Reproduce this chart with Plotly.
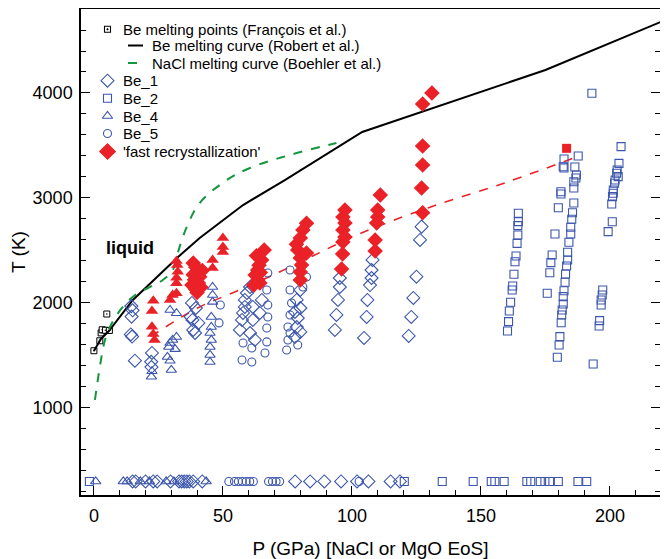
import plotly.graph_objects as go

# ---------------- data ----------------
# François et al. melting points
fr_P = [0.0, 2.3, 2.8, 3.2, 4.5, 6.0, 5.0]
fr_T = [1545, 1640, 1715, 1745, 1740, 1738, 1895]

# Robert et al. Be melting curve
rob_P = [0.0, 2.7, 5.8, 15.1, 32.2, 41.0, 57.8, 74.0, 104.0, 156.0, 175.0, 220.0]
rob_T = [1543, 1657, 1733, 2029, 2429, 2619, 2933, 3171, 3629, 4057, 4219, 4680]

# Boehler et al. NaCl melting curve
nacl_P = [0.4, 2.3, 4.3, 7.0, 11.2, 16.0, 21.7, 26.7, 30.6, 32.6, 36.0, 41.0, 51.5, 60.5, 76.0, 94.0]
nacl_T = [1076, 1390, 1648, 1810, 1962, 2076, 2152, 2219, 2314, 2486, 2724, 2952, 3171, 3286, 3410, 3524]

# recrystallization boundary (red dashed)
rc_P = [22, 40, 55, 68, 85, 103, 130, 160, 186]
rc_T = [1680, 1950, 2110, 2250, 2450, 2660, 2910, 3150, 3380]

# Be_1 (open diamonds)
be1_P = [14.5, 15.0, 14.6, 14.3, 14.8, 15.9,
         22.5, 22.2, 22.3,
         38.0, 39.5, 37.5, 38.2, 40.5, 38.5, 39.2,
         60.5, 59.3, 58.5, 58.5, 57.8, 57.4, 56.6, 60.5, 61.6, 62.4, 64.3, 65.1, 61.6,
         80.0, 78.6, 80.0, 77.9, 79.0, 78.6, 80.0, 77.9,
         95.3, 95.3, 94.6, 94.0, 93.4,
         108.0, 107.6, 107.6, 107.0, 106.0, 105.7, 104.7,
         127.0, 126.4, 125.0, 123.8, 123.0, 122.0,
         15.0, 16.2, 20.0, 23.0, 24.5, 29.7, 33.0, 34.0, 35.0, 36.0, 37.0, 38.5, 42.0,
         78.0, 83.8, 89.3, 95.8, 102.0, 106.4, 115.0, 118.6]
be1_T = [1970, 1930, 1870, 1700, 1680, 1450,
         1524, 1440, 1390,
         2000, 1952, 1867, 1838, 1810, 1743, 1714,
         2152, 2095, 2029, 1962, 1905, 1838, 1743, 1714, 1838, 1648, 1905, 2029, 1962,
         2124, 2029, 1952, 1914, 1857, 1771, 1724, 1676,
         2238, 2152, 2029, 1886, 1743,
         2410, 2314, 2238, 2171, 2029, 1867, 1667,
         2727, 2600, 2250, 2048, 1867, 1686,
         300, 300, 300, 300, 300, 300, 300, 300, 300, 300, 300, 300, 300,
         300, 300, 300, 300, 300, 300, 300, 300]

# Be_2 (open squares)
be2_P = [164.5, 164.5, 164.3, 164.3, 164.0, 163.6, 163.2, 162.8, 162.3, 162.1, 161.5, 161.0, 160.7, 160.3,
         187.7, 182.2, 181.9, 182.2, 186.4, 187.0, 186.8, 186.0, 186.0, 181.0, 181.0, 180.0, 186.0, 185.5,
         185.2, 184.8, 184.8, 184.1, 183.6, 183.6, 183.2, 182.8, 182.6, 182.2, 181.9, 181.9, 181.5, 181.3,
         181.1, 180.6, 180.3, 179.6, 178.7, 177.6, 177.1, 176.7, 175.7, 193.0,
         204.3, 203.5, 202.8, 202.6, 203.2, 202.0, 201.8, 201.3, 201.3, 201.0, 200.7, 200.9, 199.3,
         197.2, 197.0, 196.6, 196.6, 196.0, 195.8, 193.5,
         -1.75, 120.3, 135.0, 147.0, 154.0, 155.4, 159.0, 167.8, 169.3, 173.0, 174.8, 176.6, 180.0, 187.6, 191.0]
be2_T = [2855, 2775, 2737, 2648, 2568, 2448, 2393, 2273, 2162, 2124, 2007, 1924, 1822, 1733,
         3400, 3371, 3298, 3286, 3295, 3219, 3190, 3155, 3095, 3060, 3038, 2907, 2952, 2860,
         2797, 2721, 2657, 2578, 2483, 2410, 2352, 2276, 2197, 2117, 2060, 1990, 1933, 1886,
         1812, 1679, 1600, 1483, 2657, 2457, 2384, 2288, 2093, 3997,
         3489, 3330, 3267, 3235, 3203, 3171, 3140, 3076, 3045, 3013, 2943, 2774, 2680,
         2124, 2076, 2029, 1981, 1832, 1781, 1419,
         300, 300, 300, 300, 300, 300, 300, 300, 300, 300, 300, 300, 300, 300, 300]

# Be_4 (open triangles)
be4_P = [22.3, 22.5,
         29.5, 32.0, 32.0, 30.5, 29.5, 29.0, 31.5, 28.5, 29.5, 30.0,
         46.0, 46.0, 46.0, 45.5, 45.5, 45.0, 45.5, 45.0, 45.0, 45.0,
         0.7, 11.4, 12.9, 18.0, 21.5, 28.0, 31.0, 43.5]
be4_T = [1298, 1350,
         1933, 1902, 1676, 1648, 1619, 1581, 1560, 1486, 1450, 1362,
         2152, 2076, 2010, 1867, 1771, 1714, 1648, 1581, 1505, 1438,
         300, 300, 300, 300, 300, 300, 300, 300]

# Be_5 (open circles)
be5_P = [49.0, 48.5,
         67.0, 67.4, 67.4, 67.0, 67.0, 66.3, 61.2, 57.8, 57.4, 61.2, 67.4,
         76.0, 76.0, 76.6, 76.0, 75.2, 76.0, 75.2, 74.7, 82.4, 81.0, 79.0,
         52.3, 54.5, 56.0, 57.5, 59.0, 60.4, 61.8, 67.7, 69.2, 70.6, 72.0, 102.8]
be5_T = [1981, 1810,
         2124, 1981, 1867, 1762, 1629, 1524, 1571, 1619, 1457, 1438, 2286,
         2314, 2124, 2000, 1886, 1771, 1714, 1648, 1552, 2248, 2152, 1600,
         300, 300, 300, 300, 300, 300, 300, 300, 300, 300, 300, 300]

# 'fast recrystallization' (filled red diamonds)
fr_dia_P = [38.5, 39.5, 40.0, 38.5, 41.0, 39.0, 40.5, 38.0, 41.5, 39.5, 40.0, 42.0,
            66.0, 65.0, 64.0, 63.5, 62.5, 63.5, 64.3, 63.0, 62.0, 64.5,
            82.4, 81.0, 80.0, 79.0, 80.0, 80.5, 80.0, 80.0, 82.4, 78.5,
            97.3, 96.5, 97.3, 96.5, 97.3, 96.5, 96.4, 96.0,
            111.0, 110.0, 110.0, 109.6, 109.0, 109.0,
            127.4, 127.0, 127.4, 127.4, 127.4, 131.0]
fr_dia_T = [2380, 2340, 2300, 2270, 2250, 2220, 2190, 2170, 2150, 2130, 2100, 2310,
            2505, 2410, 2360, 2314, 2267, 2219, 2190, 2450, 2170, 2290,
            2759, 2695, 2619, 2505, 2429, 2362, 2295, 2219, 2476, 2560,
            2886, 2819, 2762, 2695, 2629, 2581, 2467, 2324,
            3029, 2886, 2819, 2762, 2600, 2495,
            2860, 3095, 3314, 3495, 3895, 4000]

# fast recrystallization, Be_4 (filled red triangles)
fr_tri_P = [23.0, 22.5, 22.5, 23.0, 23.5,
            32.0, 32.3, 32.5, 32.0, 32.0, 32.0, 30.5, 29.5,
            46.0, 46.0, 50.0, 50.0, 50.0]
fr_tri_T = [2022, 1924, 1774, 1705, 1648,
            2400, 2362, 2298, 2240, 2187, 2092, 2076, 2029,
            2410, 2333, 2620, 2533, 2485]

# fast recrystallization, Be_2 (filled red square)
fr_sq_P = [183.2]
fr_sq_T = [3473]

# legend labels
leg_labels = ["Be melting points (François et al.)", "Be melting curve (Robert et al.)",
              "NaCl melting curve (Boehler et al.)", "Be_1", "Be_2", "Be_4", "Be_5",
              "'fast recrystallization'"]

BLUE = "rgb(60,86,172)"
RED = "rgb(234,34,40)"
GREEN = "rgb(20,150,60)"
FONT = "Liberation Sans, Arial, sans-serif"

fig = go.Figure()

fig.add_trace(go.Scatter(x=fr_P, y=fr_T, mode="markers", name=leg_labels[0], showlegend=False,
                         marker=dict(symbol="square-dot", size=6, color="white",
                                     line=dict(color="black", width=1))))
fig.add_trace(go.Scatter(x=rob_P, y=rob_T, mode="lines", name=leg_labels[1], showlegend=False,
                         line=dict(color="black", width=2)))
fig.add_trace(go.Scatter(x=nacl_P, y=nacl_T, mode="lines", name=leg_labels[2], showlegend=False,
                         line=dict(color=GREEN, width=2, dash="dash", shape="spline")))
fig.add_trace(go.Scatter(x=rc_P, y=rc_T, mode="lines", showlegend=False,
                         line=dict(color=RED, width=1.6, dash="dash", shape="spline")))
fig.add_trace(go.Scatter(x=be1_P, y=be1_T, mode="markers", name=leg_labels[3], showlegend=False,
                         marker=dict(symbol="diamond-open", size=10, color=BLUE, line=dict(width=1.1))))
fig.add_trace(go.Scatter(x=be2_P, y=be2_T, mode="markers", name=leg_labels[4], showlegend=False,
                         marker=dict(symbol="square-open", size=8, color=BLUE, line=dict(width=1.1))))
fig.add_trace(go.Scatter(x=be4_P, y=be4_T, mode="markers", name=leg_labels[5], showlegend=False,
                         marker=dict(symbol="triangle-up-open", size=9, color=BLUE, line=dict(width=1.1))))
fig.add_trace(go.Scatter(x=be5_P, y=be5_T, mode="markers", name=leg_labels[6], showlegend=False,
                         marker=dict(symbol="circle-open", size=8, color=BLUE, line=dict(width=1.1))))
fig.add_trace(go.Scatter(x=fr_dia_P, y=fr_dia_T, mode="markers", name=leg_labels[7], showlegend=False,
                         marker=dict(symbol="diamond", size=12, color=RED)))
fig.add_trace(go.Scatter(x=fr_tri_P, y=fr_tri_T, mode="markers", showlegend=False,
                         marker=dict(symbol="triangle-up", size=11, color=RED)))
fig.add_trace(go.Scatter(x=fr_sq_P, y=fr_sq_T, mode="markers", showlegend=False,
                         marker=dict(symbol="square", size=9, color=RED)))

fig.add_annotation(x=14, y=2524, text="<b>liquid</b>", showarrow=False,
                   font=dict(size=18, color="black", family=FONT))

# ---------------- legend (drawn on a hidden overlay axis in plot-pixel units) ----------------
# overlay axis: x2 = screen px (81..660), y2 = screen px (9..495)
rows = [29.3, 45.5, 63.0, 80.7, 98.3, 116.0, 133.5, 151.5]
leg_syms = [("square-dot", "white", "black", 6), None, None,
            ("diamond-open", BLUE, BLUE, 10), ("square-open", BLUE, BLUE, 8),
            ("triangle-up-open", BLUE, BLUE, 9), ("circle-open", BLUE, BLUE, 8),
            ("diamond", RED, RED, 12)]
for i, lab in enumerate(leg_labels):
    sym = leg_syms[i]
    if sym is None:
        col, dash = ("black", "solid") if i == 1 else (GREEN, "dash")
        fig.add_shape(type="line", xref="x2", yref="y2", x0=128, x1=143, y0=rows[i], y1=rows[i],
                      line=dict(color=col, width=2, dash=dash))
        tx = 150
    else:
        fig.add_trace(go.Scatter(x=[107.5], y=[rows[i]], xaxis="x2", yaxis="y2", mode="markers",
                                 showlegend=False, hoverinfo="skip",
                                 marker=dict(symbol=sym[0], size=sym[3], color=sym[1],
                                             line=dict(color=sym[2], width=1.1))))
        tx = 121
    fig.add_annotation(x=tx, y=rows[i], xref="x2", yref="y2", text=lab, showarrow=False,
                       xanchor="left", yanchor="middle",
                       font=dict(size=15, color="black", family=FONT))

axis_common = dict(showline=True, linecolor="black", linewidth=1.5, showgrid=False, zeroline=False,
                   ticks="inside", ticklen=9, tickwidth=1.3, tickcolor="black", automargin=False,
                   tickfont=dict(size=18, color="black", family=FONT))

fig.update_xaxes(range=[-5.0, 219.4], tickvals=[0, 50, 100, 150, 200], mirror=True,
                 ticklabelstandoff=4,
                 title=dict(text="P (GPa) [NaCl or MgO EoS]", font=dict(size=19, color="black", family=FONT),
                            standoff=18),
                 minor=dict(ticks="inside", dtick=10, tick0=0, ticklen=5, tickcolor="black", tickwidth=1.2),
                 **axis_common)
fig.update_yaxes(range=[171, 4800], tickvals=[1000, 2000, 3000, 4000], mirror="allticks",
                 ticklabelstandoff=3,
                 title=dict(text="T (K)", font=dict(size=19, color="black", family=FONT), standoff=10),
                 minor=dict(ticks="inside", dtick=200, tick0=0, ticklen=5, tickcolor="black", tickwidth=1.2),
                 **axis_common)

# page body adds an 8 px offset; figure sized so the plot frame lands at x 81..660, y 9..495
fig.update_layout(
    width=660, height=551,
    margin=dict(l=73, r=8, t=1, b=64),
    paper_bgcolor="white", plot_bgcolor="white",
    font=dict(family=FONT, color="black"),
    showlegend=False,
    xaxis2=dict(overlaying="x", anchor="y2", range=[81, 660], visible=False, fixedrange=True),
    yaxis2=dict(overlaying="y", anchor="x2", range=[495, 9], visible=False, fixedrange=True),
)

fig.write_html("out.html")
